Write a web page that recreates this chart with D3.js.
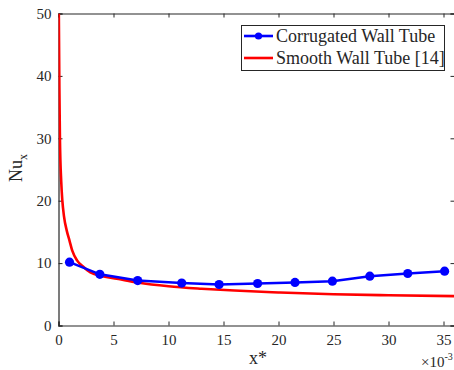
<!DOCTYPE html>
<html><head><meta charset="utf-8">
<script src="https://cdn.jsdelivr.net/npm/d3@7/dist/d3.min.js"></script>
<style>body{margin:0;background:#fff}svg{display:block}svg text{font-family:"Liberation Serif","Times New Roman",Times,"DejaVu Serif",serif !important;fill:#262626}</style>
</head><body><svg id="c" width="454" height="370"></svg>
<script>
// Data (x* in units of 1e-3)
const corrX = [1.0, 3.76, 7.2, 11.2, 14.6, 18.1, 21.5, 24.9, 28.3, 31.75, 35.1];
const corrNu = [10.15, 8.2, 7.2, 6.8, 6.57, 6.73, 6.9, 7.1, 7.9, 8.33, 8.7];
const smoothX = [0.03, 0.08, 0.13, 0.25, 0.35, 0.5, 0.75, 1.0, 1.25, 1.7, 2.2, 2.9, 4, 5.3, 7.2, 10, 13, 16, 20, 25, 30, 36];
const smoothNu = [50, 38, 30, 23, 20, 17.5, 15.2, 13.6, 12, 10.4, 9.5, 8.5, 7.9, 7.5, 6.9, 6.3, 5.9, 5.6, 5.3, 5.0, 4.85, 4.7];
const xTicks = [0, 5, 10, 15, 20, 25, 30, 35];
const yTicks = [0, 10, 20, 30, 40, 50];
const seriesNames = ["Corrugated Wall Tube", "Smooth Wall Tube [14]"];

const FONT = '"Liberation Serif","Times New Roman",Times,"DejaVu Serif",serif';
const svg = d3.select("#c");
const L = 58.5, R = 454.5, T = 13.5, B = 325.5;
const x = d3.scaleLinear().domain([0, 36]).range([L, R]);
const y = d3.scaleLinear().domain([0, 50]).range([B, T]);
const axisColor = "#262626";

svg.append("defs").append("clipPath").attr("id", "clip").append("rect")
  .attr("x", L).attr("y", T).attr("width", R - L).attr("height", B - T);

const gx = svg.append("g").attr("transform", `translate(0,${B})`)
  .call(d3.axisBottom(x).tickValues(xTicks).tickSize(-4).tickPadding(9).tickFormat(d3.format("d")));
const gxt = svg.append("g").attr("transform", `translate(0,${T})`)
  .call(d3.axisTop(x).tickValues(xTicks).tickSize(-4).tickFormat(""));
const gy = svg.append("g").attr("transform", `translate(${L},0)`)
  .call(d3.axisLeft(y).tickValues(yTicks).tickSize(-4).tickPadding(7));
const gyr = svg.append("g").attr("transform", `translate(${R},0)`)
  .call(d3.axisRight(y).tickValues(yTicks).tickSize(-4).tickFormat(""));
[gx, gxt, gy, gyr].forEach(g => {
  g.attr("font-family", FONT).attr("font-size", 15);
  g.select(".domain").attr("stroke", axisColor).attr("stroke-width", 1.2);
  g.selectAll(".tick line").attr("stroke", axisColor);
  g.selectAll(".tick text").attr("font-size", 15).attr("fill", axisColor).attr("font-family", FONT);
});

const plot = svg.append("g").attr("clip-path", "url(#clip)");

plot.append("path").datum(smoothX.map((v, i) => [v, smoothNu[i]]))
  .attr("d", d3.line().x(d => x(d[0])).y(d => y(d[1])).curve(d3.curveMonotoneX))
  .attr("fill", "none").attr("stroke", "#ff0000").attr("stroke-width", 2.6);

const cdata = corrX.map((v, i) => [v, corrNu[i]]);
plot.append("path").datum(cdata)
  .attr("d", d3.line().x(d => x(d[0])).y(d => y(d[1]))).attr("fill", "none")
  .attr("stroke", "#0000ff").attr("stroke-width", 2.6);
plot.selectAll("circle.m").data(cdata).join("circle").attr("class", "m")
  .attr("cx", d => x(d[0])).attr("cy", d => y(d[1])).attr("r", 4.6)
  .attr("fill", "#0000ff");

svg.append("text").attr("x", 258).attr("y", 364).attr("text-anchor", "middle")
  .attr("font-family", FONT).attr("font-size", 18).text("x*");
const yl = svg.append("text").attr("transform", "translate(22,168) rotate(-90)")
  .attr("text-anchor", "middle").attr("font-family", FONT).attr("font-size", 18);
yl.append("tspan").text("Nu");
yl.append("tspan").attr("font-size", 12).attr("dy", 5).text("x");
const ex = svg.append("text").attr("x", 421).attr("y", 367).attr("font-family", FONT).attr("font-size", 15);
ex.append("tspan").text("×10");
ex.append("tspan").attr("font-size", 10).attr("dy", -7).text("-3");

const lg = svg.append("g");
lg.append("rect").attr("x", 241.5).attr("y", 25.5).attr("width", 203).attr("height", 45)
  .attr("fill", "#fff").attr("stroke", axisColor).attr("stroke-width", 1);
const lgY = [36, 58];
const colors = ["#0000ff", "#ff0000"];
seriesNames.forEach((n, i) => {
  lg.append("line").attr("x1", 244).attr("x2", 273).attr("y1", lgY[i]).attr("y2", lgY[i])
    .attr("stroke", colors[i]).attr("stroke-width", 2.6);
  if (i === 0) lg.append("circle").attr("cx", 258.5).attr("cy", lgY[i]).attr("r", 3.6).attr("fill", colors[i]);
  lg.append("text").attr("x", 276).attr("y", lgY[i] + 6).attr("font-family", FONT)
    .attr("font-size", 18).text(n);
});
</script></body></html>
